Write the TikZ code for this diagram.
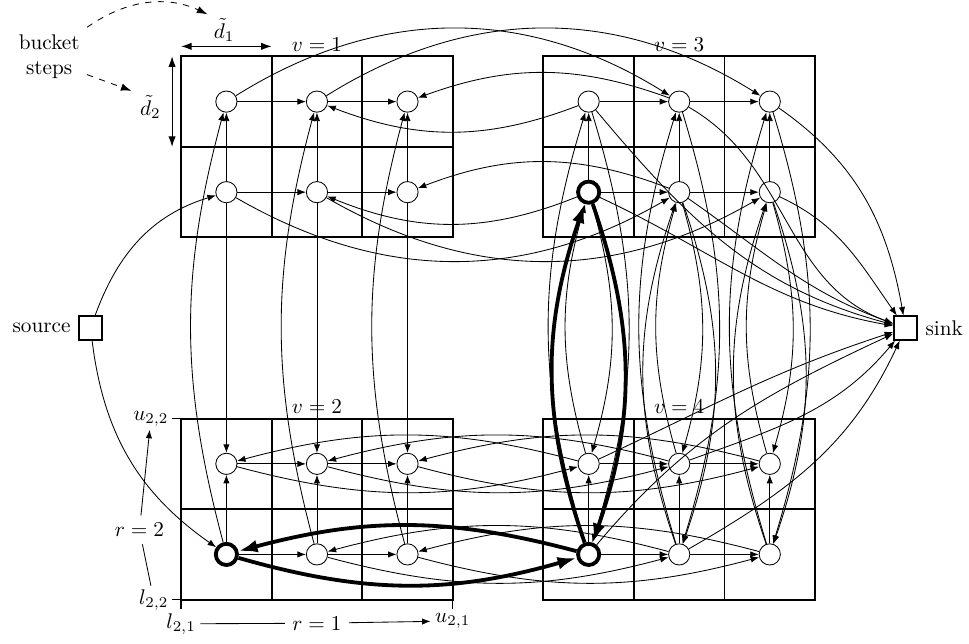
\documentclass[tikz,border=0pt]{standalone}
\usetikzlibrary{arrows.meta}
\begin{document}
\begin{tikzpicture}[x=1.5cm,y=1.5cm,
  bn/.style={circle,draw,minimum size=10pt,inner sep=0pt},
  term/.style={rectangle,draw,line width=0.8pt,minimum size=11pt,inner sep=0pt},
  gridl/.style={line width=0.9pt},
  edg/.style={-{Latex[length=4pt,width=3pt]},line width=0.4pt},
  edgb/.style={-{Latex[length=9pt,width=6pt]},line width=1.8pt},
  lab/.style={inner sep=2pt}
]
\useasboundingbox (-2.0,-0.486) rectangle (8.70,6.622);

% bucket grids
\foreach \x/\y in {0/4,0/0,4/4,4/0} {
  \draw[gridl] (\x,\y) rectangle ++(3,2);
  \draw[gridl] (\x+1,\y) -- ++(0,2);
  \draw[gridl] (\x+2,\y) -- ++(0,2);
  \draw[gridl] (\x,\y+1) -- ++(3,0);
}

% bucket nodes
\foreach \v/\ox/\oy in {1/0/4,2/0/0,3/4/4,4/4/0}
  \foreach \i in {1,2,3}
    \foreach \j in {1,2} {
      \pgfmathtruncatemacro\code{\v*100+\i*10+\j}
      \def\lw{0.4pt}
      \ifnum\code=211 \def\lw{1.8pt}\fi
      \ifnum\code=311 \def\lw{1.8pt}\fi
      \ifnum\code=411 \def\lw{1.8pt}\fi
      \node[bn,line width=\lw] (n\v\i\j) at (\ox+\i-0.5,\oy+\j-0.5) {};
    }

% source and sink
\node[term] (src) at (-1,3) {};
\node[anchor=east] (srcl) at (src.west) {source};
\node[term] (sink) at (8,3) {};
\node[anchor=west] (sinkl) at (sink.east) {sink};

% labels of vertices
\node[lab,anchor=south] (lv1) at (1.5,6) {$v=1$};
\node[lab,anchor=south] (lv3) at (5.5,6) {$v=3$};
\node[lab,anchor=south] (lv2) at (1.5,2) {$v=2$};
\node[lab,anchor=south] (lv4) at (5.5,2) {$v=4$};

% arcs inside each bucket grid
\foreach \v in {1,2,3,4} {
  \foreach \j in {1,2} {
    \draw[edg] (n\v1\j) -- (n\v2\j);
    \draw[edg] (n\v2\j) -- (n\v3\j);
  }
  \foreach \i in {1,2,3} \draw[edg] (n\v\i1) -- (n\v\i2);
}

% v1 <-> v2
\foreach \i in {1,2,3} {
  \draw[edg] (n1\i1) -- (n2\i2);
  \draw[edg] (n2\i1) to[bend left=15] (n1\i2);
}

% v1 <-> v3
\draw[edg] (n112) to[bend left=32] (n322);
\draw[edg] (n122) to[bend left=32] (n332);
\draw[edg] (n111) to[bend right=30] (n321);
\draw[edg] (n121) to[bend right=30] (n331);
\draw[edg] (n312) to[bend left=21] (n122);
\draw[edg] (n322) to[bend right=20] (n132);
\draw[edg] (n311) to[bend left=22] (n121);
\draw[edg] (n321) to[bend right=21] (n131);

% v2 <-> v4
\foreach \i in {1,2,3} {
  \draw[edg] (n2\i2) to[bend right=15] (n4\i2);
  \draw[edg] (n4\i2) to[bend right=15] (n2\i2);
}
\foreach \i in {2,3} {
  \draw[edg] (n2\i1) to[bend right=15] (n4\i1);
  \draw[edg] (n4\i1) to[bend right=15] (n2\i1);
}

% v3 <-> v4
\foreach \i in {1,2,3} {
  \draw[edg] (n4\i1) to[bend left=17] (n3\i2);
  \draw[edg] (n3\i2) to[bend left=17] (n4\i1);
  \draw[edg] (n4\i2) to[bend left=16] (n3\i1);
  \draw[edg] (n3\i1) to[bend left=16] (n4\i2);
}
\foreach \i in {2,3} {
  \draw[edg] (n4\i1) to[bend left=19] (n3\i1);
  \draw[edg] (n3\i1) to[bend left=19] (n4\i1);
}

% to sink
\draw[edg] (n332) to[out=-35,in=100] (sink);
\draw[edg] (n331) to[out=-25,in=125] (sink);
\draw[edg] (n322) to[out=-30,in=160] (sink);
\draw[edg] (n321) to[out=-35,in=160] (sink);
\draw[edg] (n312) to[out=-50,in=165] (sink);
\draw[edg] (n311) to[out=-25,in=170] (sink);
\draw[edg] (n412) to[out=25,in=198] (sink);
\draw[edg] (n422) to[out=20,in=230] (sink);
\draw[edg] (n411) to[out=50,in=205] (sink);
\draw[edg] (n421) to[out=30,in=245] (sink);

% from source
\draw[edg] (src) to[out=70,in=197] (n111);
\draw[edg] (src) to[out=-83,in=145] (n211);

% bold path
\draw[edgb] (n211) to[bend right=16] (n411);
\draw[edgb] (n411) to[bend right=15] (n211);
\draw[edgb] (n411) to[bend left=19] (n311);
\draw[edgb] (n311) to[bend left=19] (n411);

% bucket steps
\coordinate (d1a) at (0,6.11);
\coordinate (d1b) at (1,6.11);
\draw[{Latex[length=5pt,width=3.5pt]}-{Latex[length=5pt,width=3.5pt]},line width=0.5pt] (d1a) -- (d1b);
\node[inner sep=1pt] (d1) at (0.475,6.29) {$\tilde d_1$};
\coordinate (d2a) at (-0.1,6.0);
\coordinate (d2b) at (-0.1,5.0);
\draw[{Latex[length=5pt,width=3.5pt]}-{Latex[length=5pt,width=3.5pt]},line width=0.5pt] (d2a) -- (d2b);
\node[inner sep=1pt] (d2) at (-0.34,5.44) {$\tilde d_2$};
\node[align=center] (bs) at (-1.457,5.993) {bucket\\steps};
\draw[dashed,-{Latex[length=5pt,width=3.5pt]},shorten >=2pt] (bs.north east) to[out=35,in=155] (d1.north west);
\draw[dashed,-{Latex[length=5pt,width=3.5pt]},shorten >=3pt] (bs.-25) -- (d2.north west);

% resource windows
\coordinate (tl22) at (-0.1,0);
\coordinate (tu22) at (-0.1,2);
\coordinate (tl21) at (0,-0.1);
\coordinate (tu21) at (3,-0.1);
\draw[line width=0.6pt] (0,0) -- (tl22) (0,2) -- (tu22) (0,0) -- (tl21) (3,0) -- (tu21);
\node[anchor=east,inner sep=1.5pt] (l22) at (tl22) {$l_{2,2}$};
\node[anchor=east,inner sep=1.5pt] (u22) at (tu22) {$u_{2,2}$};
\node[anchor=north,inner sep=2pt] (l21) at (tl21) {$l_{2,1}$};
\node[anchor=north,inner sep=2pt] (u21) at (tu21) {$u_{2,1}$};
\node (r1) at (1.5,-0.26) {$r=1$};
\node (r2) at (-0.46,0.77) {$r=2$};
\draw (l21) -- (r1);
\draw[edg] (r1) -- (u21);
\draw (l22) -- (r2);
\draw[edg] (r2) -- (u22);
\end{tikzpicture}
\end{document}
